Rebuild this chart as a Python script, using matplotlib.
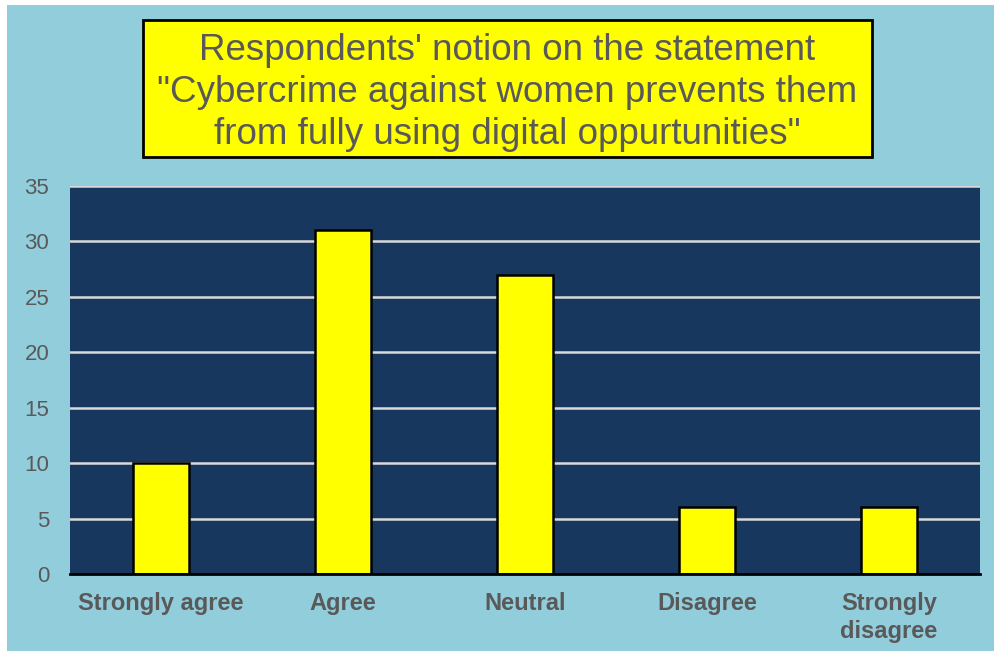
import matplotlib
matplotlib.use("Agg")
import matplotlib.pyplot as plt
from matplotlib.patches import Rectangle

categories = ["Strongly agree", "Agree", "Neutral", "Disagree", "Strongly\ndisagree"]
values = [10, 31, 27, 6, 6]
yticks = [0, 5, 10, 15, 20, 25, 30, 35]
title = ("Respondents' notion on the statement\n"
         "\"Cybercrime against women prevents them\n"
         "from fully using digital oppurtunities\"")

W, H = 995, 653
plt.rcParams["font.family"] = ["Liberation Sans", "DejaVu Sans"]

fig = plt.figure(figsize=(W / 100, H / 100), dpi=100)
fig.patch.set_facecolor("white")

# light blue chart panel
fig.patches.append(Rectangle((7 / W, 2 / H), 1 - 7 / W, (H - 7) / H,
                             transform=fig.transFigure, facecolor="#92CDDC",
                             edgecolor="none", zorder=0))

ax = fig.add_axes([70 / W, 1 - 574 / H, 910 / W, 388 / H])
ax.set_zorder(2)
ax.set_facecolor("#17375E")

x = range(len(categories))
ax.bar(x, values, width=0.31, color="#FFFF00", edgecolor="black",
       linewidth=1.8, zorder=3)

ax.set_xlim(-0.5, len(categories) - 0.5)
ax.set_ylim(0, 35)
ax.set_yticks(yticks)
ax.set_xticks(list(x))
ax.set_xticklabels(categories, fontsize=17, fontweight="bold",
                   color="#595959", linespacing=1.25)
ax.tick_params(axis="x", length=0, pad=13)
ax.tick_params(axis="y", length=0, pad=15, labelsize=16, labelcolor="#595959")

for t in yticks[1:]:
    ax.axhline(t, color="#D9D9D9", linewidth=1.8, zorder=1)

for s in ["left", "right", "top"]:
    ax.spines[s].set_visible(False)
ax.spines["bottom"].set_color("black")
ax.spines["bottom"].set_linewidth(2)
ax.spines["bottom"].set_zorder(4)

# title box
fig.patches.append(Rectangle((143 / W, 1 - 157 / H), (872 - 143) / W, 137 / H,
                             transform=fig.transFigure, facecolor="#FFFF00",
                             edgecolor="black", linewidth=2, zorder=1))
fig.text(507 / W, 1 - 92.5 / H, title, ha="center", va="center",
         fontsize=26.5, color="#595959", linespacing=1.27, zorder=3)

fig.savefig("out.png", dpi=100, facecolor=fig.get_facecolor())
